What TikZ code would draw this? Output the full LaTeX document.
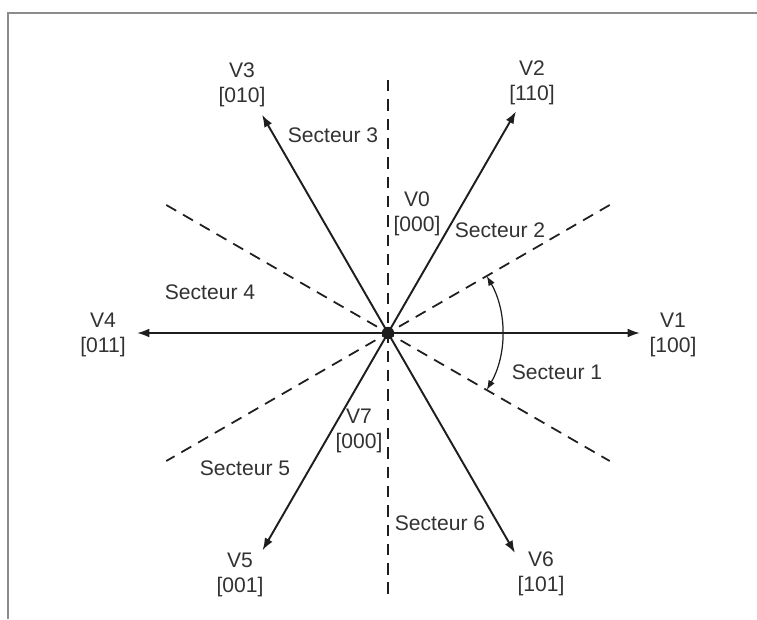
\documentclass[tikz,border=0pt]{standalone}
\usepackage{fontspec}
\setmainfont{Liberation Sans}
\usetikzlibrary{arrows.meta}
\definecolor{ink}{RGB}{30,30,30}
\definecolor{txt}{RGB}{50,50,50}
\definecolor{frame}{RGB}{140,140,140}
\tikzset{
  vec/.style={-{Latex[length=7pt,width=5pt]},line width=1.1pt,draw=ink},
  sep/.style={dashed,dash pattern=on 6.5pt off 4.5pt,line width=1pt,draw=ink},
  both/.style={{Latex[length=5.5pt,width=4pt]}-{Latex[length=5.5pt,width=4pt]},line width=0.7pt,draw=ink},
  dot/.style={circle,fill=ink,inner sep=0pt,minimum size=7pt},
  lbl/.style={font=\fontsize{12}{14.2}\selectfont,text=txt,align=center,inner sep=0pt},
}
\begin{document}
\begin{tikzpicture}[x=0.02cm,y=0.02cm]
  \useasboundingbox (-388,-286) rectangle (369,333);
  \draw[frame,line width=1.4pt] (-380,-286) -- (-380,320) -- (369,320);
  % sector borders
  \coordinate (up) at (0,253);
  \coordinate (dn) at (0,-262);
  \coordinate (b1) at (30:256);
  \coordinate (b2) at (150:256);
  \coordinate (b3) at (210:256);
  \coordinate (b4) at (330:256);
  \draw[sep] (up) -- (dn);
  \draw[sep] (b1) -- (b3);
  \draw[sep] (b2) -- (b4);
  % vectors
  \node[dot] (O) at (0,0) {};
  \coordinate (v1) at (0:252);
  \coordinate (v2) at (60:256);
  \coordinate (v3) at (120:252);
  \coordinate (v4) at (180:251);
  \coordinate (v5) at (240:251);
  \coordinate (v6) at (300:254);
  \draw[vec] (O.center) -- (v1);
  \draw[vec] (O.center) -- (v2);
  \draw[vec] (O.center) -- (v3);
  \draw[vec] (O.center) -- (v4);
  \draw[vec] (O.center) -- (v5);
  \draw[vec] (O.center) -- (v6);
  \draw[both] (-30:114) arc[start angle=-30,end angle=30,radius=114];
  % labels
  \node[lbl] (l1) at (285,-2) {V1\\{}[100]};
  \node[lbl] (l2) at (144,250) {V2\\{}[110]};
  \node[lbl] (l3) at (-146,248) {V3\\{}[010]};
  \node[lbl] (l4) at (-285,-2) {V4\\{}[011]};
  \node[lbl] (l5) at (-148,-242) {V5\\{}[001]};
  \node[lbl] (l6) at (153,-241) {V6\\{}[101]};
  \node[lbl] (l0) at (29,119) {V0\\{}[000]};
  \node[lbl] (l7) at (-29,-98) {V7\\{}[000]};
  \node[lbl] (s1) at (169,-39) {Secteur 1};
  \node[lbl] (s2) at (112,103) {Secteur 2};
  \node[lbl] (s3) at (-55,198) {Secteur 3};
  \node[lbl] (s4) at (-178,41) {Secteur 4};
  \node[lbl] (s5) at (-143,-135) {Secteur 5};
  \node[lbl] (s6) at (52,-190) {Secteur 6};
\end{tikzpicture}
\end{document}
